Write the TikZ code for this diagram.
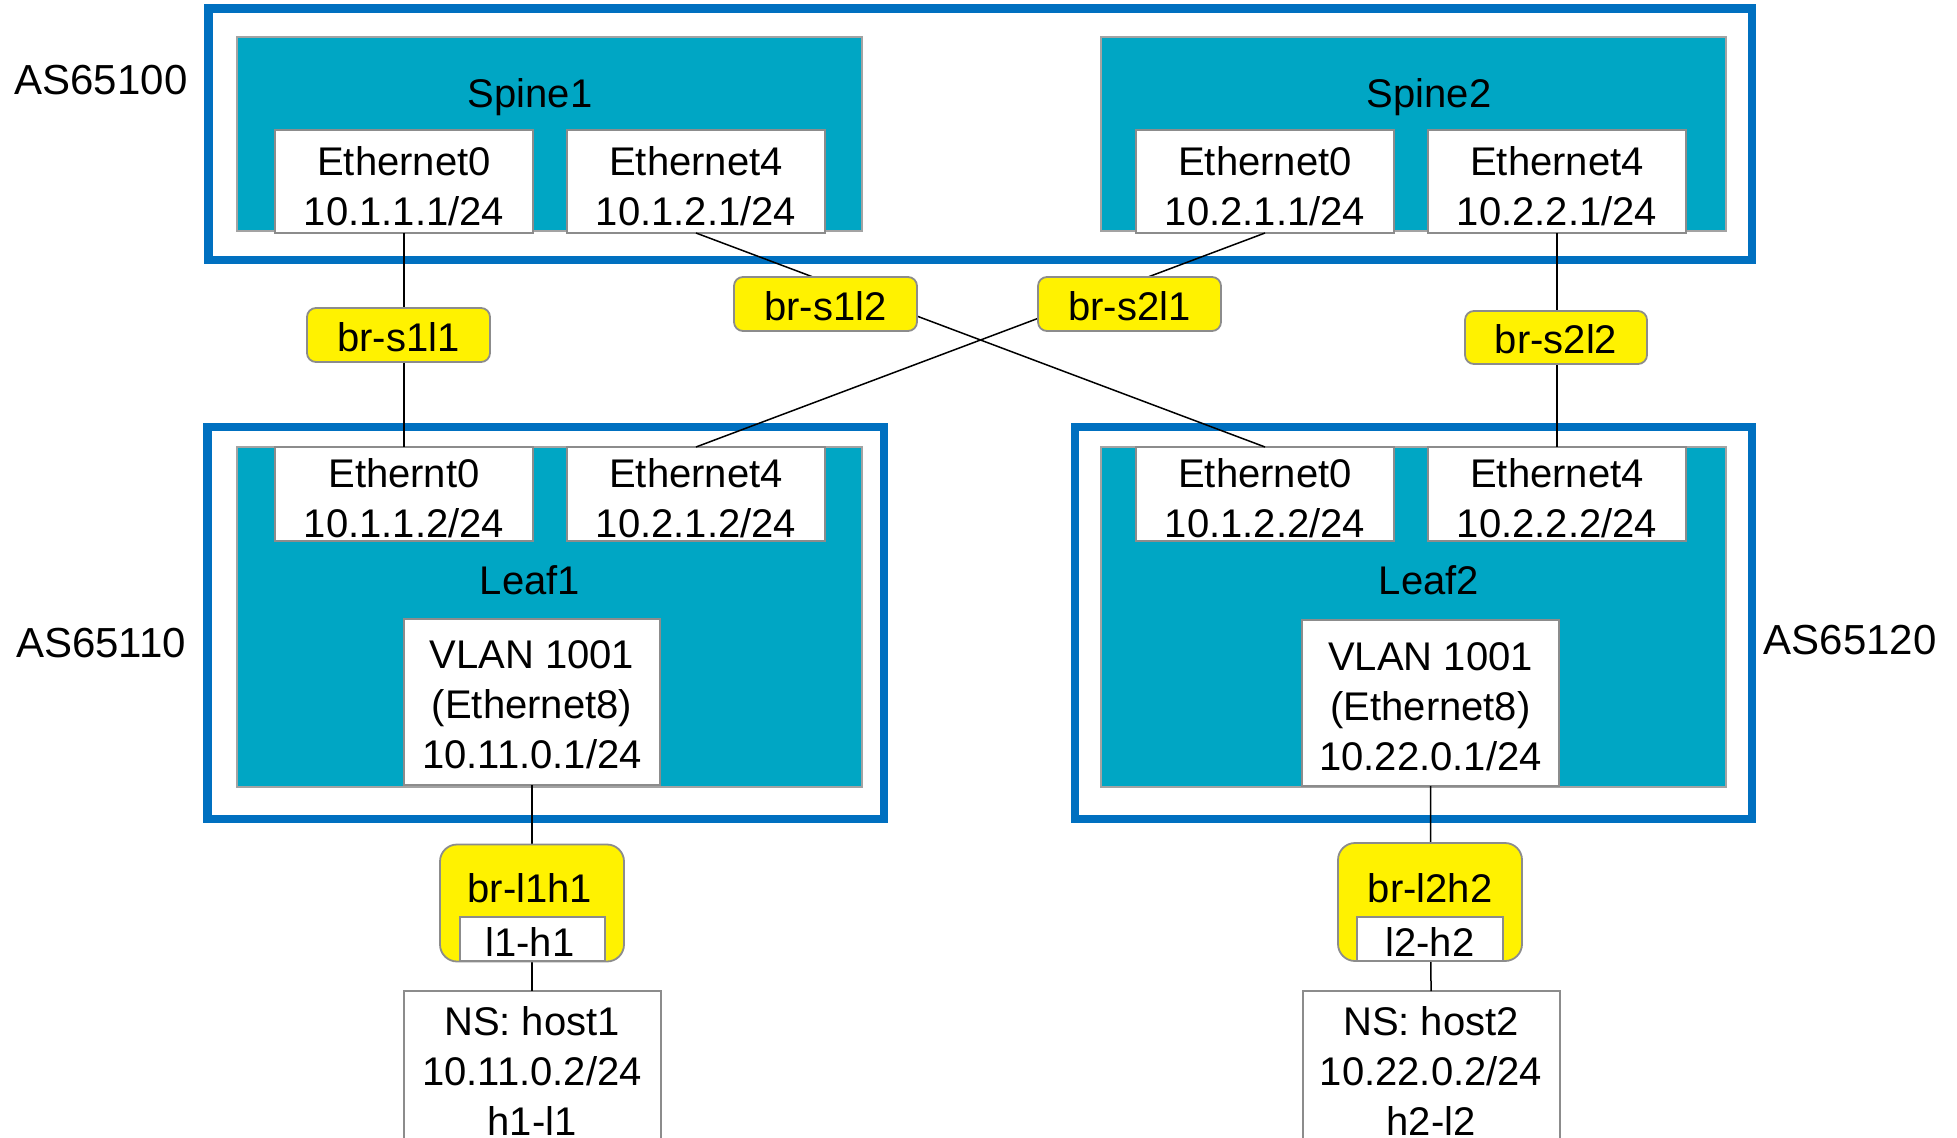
\documentclass[tikz,border=0pt]{standalone}
\usepackage{fontspec}
\setmainfont{Liberation Sans}
\definecolor{asblue}{RGB}{0,112,192}
\definecolor{devteal}{RGB}{0,166,196}
\definecolor{edgegray}{RGB}{140,140,140}
\begin{document}
\begin{tikzpicture}[x=0.5pt,y=-0.5pt,
  box/.style={rectangle,inner sep=0pt,outer sep=0pt},
  asbox/.style={box,draw=asblue,line width=4.3pt},
  dev/.style={box,fill=devteal,draw=edgegray!80,line width=1pt},
  port/.style={box,fill=white,draw=edgegray,line width=1pt},
  bridge/.style={box,fill=yellow,draw=edgegray,line width=0.9pt,rounded corners=4.5pt},
  bigbridge/.style={bridge,rounded corners=8.5pt},
  txt/.style={inner sep=0pt,font=\fontsize{20}{25}\selectfont,align=center},
  astxt/.style={txt,font=\fontsize{21}{25}\selectfont},
  link/.style={draw=black,line width=0.75pt}]
\useasboundingbox (0,0) rectangle (1957,1138);
\clip (0,0) rectangle (1957,1138);

% AS frames
\node[asbox,minimum width=771.85pt,minimum height=125.85pt] (asS) at (980.15,134.15) {};
\node[asbox,minimum width=338.25pt,minimum height=196pt] (asL1) at (545.75,623) {};
\node[asbox,minimum width=338.5pt,minimum height=196pt] (asL2) at (1413.5,623) {};

% devices
\node[dev,minimum width=312.75pt,minimum height=97pt] (spine1) at (549.25,134.5) {};
\node[dev,minimum width=312.5pt,minimum height=97pt] (spine2) at (1413.5,134.5) {};
\node[dev,minimum width=312.75pt,minimum height=170pt] (leaf1) at (549.25,617) {};
\node[dev,minimum width=312.5pt,minimum height=170pt] (leaf2) at (1413.5,617) {};

% ports
\node[port,minimum width=129pt,minimum height=51.5pt] (s1e0) at (404,181.5) {};
\node[port,minimum width=129pt,minimum height=51.5pt] (s1e4) at (696,181.5) {};
\node[port,minimum width=129pt,minimum height=51.5pt] (s2e0) at (1265,181.5) {};
\node[port,minimum width=129pt,minimum height=51.5pt] (s2e4) at (1557,181.5) {};
\node[port,minimum width=129pt,minimum height=47pt] (l1e0) at (404,494) {};
\node[port,minimum width=129pt,minimum height=47pt] (l1e4) at (696,494) {};
\node[port,minimum width=129pt,minimum height=47pt] (l2e0) at (1265,494) {};
\node[port,minimum width=129pt,minimum height=47pt] (l2e4) at (1557,494) {};
\node[port,minimum width=128pt,minimum height=83pt] (v1) at (532,702) {};
\node[port,minimum width=128.5pt,minimum height=83pt] (v2) at (1430.5,703) {};
\node[port,minimum width=128.5pt,minimum height=89.5pt] (host1) at (532,1080.5) {};
\node[port,minimum width=128.5pt,minimum height=89.5pt] (host2) at (1431,1080.5) {};

% texts
\node[astxt] (tAS1) at (101,80) {AS65100};
\node[astxt] (tAS2) at (101,643) {AS65110};
\node[astxt] (tAS3) at (1850,640) {AS65120};
\node[txt] (tsp1) at (530,97) {Spine1};
\node[txt] (tsp2) at (1429,97) {Spine2};
\node[txt] (tlf1) at (530,580) {Leaf1};
\node[txt] (tlf2) at (1429,580) {Leaf2};
\node[txt] (ts1e0) at (404,186.5) {Ethernet0\\10.1.1.1/24};
\node[txt] (ts1e4) at (696,186.5) {Ethernet4\\10.1.2.1/24};
\node[txt] (ts2e0) at (1265,186.5) {Ethernet0\\10.2.1.1/24};
\node[txt] (ts2e4) at (1557,186.5) {Ethernet4\\10.2.2.1/24};
\node[txt] (tl1e0) at (404,498) {Ethernt0\\10.1.1.2/24};
\node[txt] (tl1e4) at (696,498) {Ethernet4\\10.2.1.2/24};
\node[txt] (tl2e0) at (1265,498) {Ethernet0\\10.1.2.2/24};
\node[txt] (tl2e4) at (1557,498) {Ethernet4\\10.2.2.2/24};
\node[txt] (tv1) at (532,705) {VLAN 1001\\(Ethernet8)\\10.11.0.1/24};
\node[txt] (tv2) at (1430.5,707) {VLAN 1001\\(Ethernet8)\\10.22.0.1/24};
\node[txt] (th1) at (532,1071) {NS: host1\\10.11.0.2/24\\h1-l1};
\node[txt] (th2) at (1431,1071) {NS: host2\\10.22.0.2/24\\h2-l2};

% links
\draw[link] (s1e0.south) -- (l1e0.north);
\draw[link] (s1e4.south) -- (l2e0.north);
\draw[link] (s2e0.south) -- (l1e4.north);
\draw[link] (s2e4.south) -- (l2e4.north);
\draw[link] (v1.south) -- (host1.north);
\draw[link] (v2.south) -- (host2.north);

% bridges
\node[bridge,minimum width=91.5pt,minimum height=27pt] (bs1l1) at (398.5,335) {};
\node[bridge,minimum width=91.5pt,minimum height=27pt] (bs1l2) at (825.5,304) {};
\node[bridge,minimum width=91.5pt,minimum height=27pt] (bs2l1) at (1129.5,304) {};
\node[bridge,minimum width=91pt,minimum height=26.5pt] (bs2l2) at (1556,337.5) {};
\node[txt] (tbs1l1) at (398.5,337) {br-s1l1};
\node[txt] (tbs1l2) at (825.5,306) {br-s1l2};
\node[txt] (tbs2l1) at (1129.5,306) {br-s2l1};
\node[txt] (tbs2l2) at (1556,339.5) {br-s2l2};

\node[bigbridge,minimum width=92pt,minimum height=58.5pt] (bl1h1) at (532,903) {};
\node[bigbridge,minimum width=92pt,minimum height=59pt] (bl2h2) at (1430,902) {};
\node[port,minimum width=72.5pt,minimum height=22pt] (pl1h1) at (532.5,939) {};
\node[port,minimum width=73pt,minimum height=22pt] (pl2h2) at (1430,939) {};
\node[txt] (tbl1h1) at (530,888) {br-l1h1};
\node[txt] (tbl2h2) at (1430,888) {br-l2h2};
\node[txt] (tpl1h1) at (530,942) {l1-h1};
\node[txt] (tpl2h2) at (1430,942) {l2-h2};
\end{tikzpicture}
\end{document}
